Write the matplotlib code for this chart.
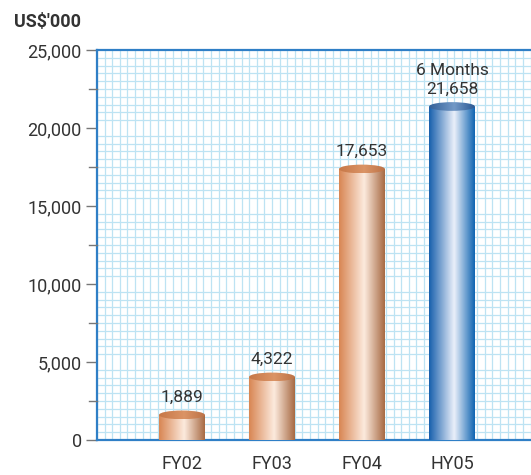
import numpy as np
import matplotlib
matplotlib.use("Agg")
import matplotlib.pyplot as plt
from matplotlib.patches import Ellipse
from matplotlib.ticker import MultipleLocator, FuncFormatter

# data
categories = ["FY02", "FY03", "FY04", "HY05"]
values = [1889, 4322, 17653, 21658]
value_labels = ["1,889", "4,322", "17,653", "6 Months\n21,658"]
unit_label = "US$'000"

plt.rcParams['font.family'] = ['Roboto', 'DejaVu Sans']

orange = [(0.85, 0.53, 0.33), (0.99, 0.92, 0.87), (0.66, 0.42, 0.27)]
blue = [(0.10, 0.38, 0.68), (0.92, 0.94, 0.98), (0.07, 0.40, 0.70)]
orange_top = [(0.78, 0.47, 0.28), (0.86, 0.58, 0.40), (0.74, 0.45, 0.28)]
blue_top = [(0.20, 0.38, 0.60), (0.45, 0.60, 0.78), (0.17, 0.35, 0.58)]


def gradient(cols, n=64):
    # left -> highlight (at 55%) -> right
    t = np.linspace(0, 1, n)
    c0, c1, c2 = [np.array(c) for c in cols]
    out = np.zeros((1, n, 3))
    for i, v in enumerate(t):
        if v < 0.55:
            f = v / 0.55
            out[0, i] = c0 * (1 - f) + c1 * f
        else:
            f = (v - 0.55) / 0.45
            out[0, i] = c1 * (1 - f) + c2 * f
    return out


fig = plt.figure(figsize=(5.31, 4.75), dpi=100)
ax = fig.add_axes([97 / 531, 35 / 475, 445 / 531, 390 / 475])

x = np.arange(len(categories))
width = 0.51
ell_h = 560

ax.set_xlim(-0.944, 4.0)
ax.set_ylim(0, 25000)

tops = [v - ell_h / 2 for v in values]
bars = ax.bar(x, tops, width=width, color='none', edgecolor='none', zorder=3)
for i, b in enumerate(bars):
    body = blue if i == 3 else orange
    top = blue_top if i == 3 else orange_top
    x0 = x[i] - width / 2
    x1 = x[i] + width / 2
    im = ax.imshow(gradient(body), extent=(x0, x1, 0, tops[i]), aspect='auto',
                   zorder=3, interpolation='bilinear')
    im.set_clip_path(b)
    e = Ellipse((x[i], tops[i]), width, ell_h, facecolor='none', edgecolor='none', zorder=4)
    ax.add_patch(e)
    im2 = ax.imshow(gradient(top), extent=(x0, x1, tops[i] - ell_h / 2, tops[i] + ell_h / 2),
                    aspect='auto', zorder=4, interpolation='bilinear')
    im2.set_clip_path(e)
    ax.annotate(value_labels[i], (x[i], values[i]), xytext=(0, 4), textcoords='offset points',
                ha='center', va='bottom', fontsize=12.5, color='#333333', linespacing=1.3)

ax.set_xticks(x)
ax.set_xticklabels(categories, fontsize=13, color='#333333')
ax.tick_params(axis='x', length=0, pad=11)

ax.yaxis.set_major_locator(MultipleLocator(5000))
ax.yaxis.set_major_formatter(FuncFormatter(lambda v, p: f"{int(v):,}"))
ax.tick_params(axis='y', which='major', length=8, width=1, color='#777777',
               labelsize=13, labelcolor='#333333', pad=3)

# fine grid
ax.set_xticks(np.arange(-0.944, 4.0, 0.0845), minor=True)
ax.set_yticks(np.arange(0, 25001, 500), minor=True)
ax.tick_params(axis='both', which='minor', length=0)
ax.grid(True, which='minor', color='#bde3f3', linewidth=0.9, zorder=0)
ax.set_axisbelow(True)

# half-step tick marks
for yv in np.arange(2500, 25000, 5000):
    ax.plot([-0.944 - 0.09, -0.944], [yv, yv], color='#777777', lw=1, clip_on=False, zorder=5)

for s in ['left', 'top', 'bottom']:
    ax.spines[s].set_color('#2f7fc6')
    ax.spines[s].set_linewidth(1.6)
ax.spines['right'].set_visible(False)

fig.text(14 / 531, 1 - 22 / 475, unit_label, fontsize=13, fontweight='bold', color='#333333',
         va='center', ha='left')

fig.savefig("out.png", dpi=100)
